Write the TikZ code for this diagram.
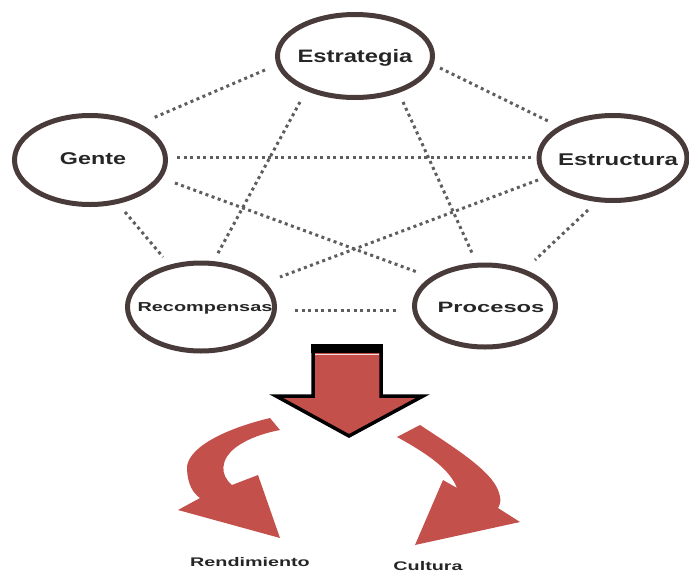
\documentclass[tikz,border=0pt]{standalone}
\usepackage{fontspec}
\setmainfont{Liberation Sans}
\usetikzlibrary{shapes.geometric,calc}
\definecolor{ringc}{HTML}{4A3B3B}
\definecolor{dotc}{HTML}{5E5E5E}
\definecolor{arrred}{HTML}{C4504C}
\newcommand{\stx}[3]{\scalebox{#1}[1]{\fontsize{#2}{#2}\selectfont\bfseries #3}}
\begin{document}
\begin{tikzpicture}[x=1pt,y=-1pt,
  ring/.style={ellipse, draw=ringc, line width=5pt, inner sep=0pt, fill=white},
  lbl/.style={inner sep=0pt, text=black!85},
  dots/.style={draw=dotc, line width=3pt, dash pattern=on 3pt off 3.5pt}]
\useasboundingbox (0,0) rectangle (689,574);
% ellipses
\node[ring, minimum width=155pt, minimum height=83pt] (E) at (355,56) {};
\node[ring, minimum width=151pt, minimum height=89pt] (G) at (90,160) {};
\node[ring, minimum width=148pt, minimum height=85pt] (S) at (613,158) {};
\node[ring, minimum width=147pt, minimum height=88pt] (R) at (201,307) {};
\node[ring, minimum width=141pt, minimum height=82pt] (P) at (485,306) {};
% labels
\node[lbl] (tE) at (355,58) {\stx{1.32}{18}{Estrategia}};
\node[lbl] (tG) at (93,159) {\stx{1.37}{17}{Gente}};
\node[lbl] (tS) at (618,160) {\stx{1.41}{17}{Estructura}};
\node[lbl] (tR) at (205,308) {\stx{1.53}{13}{Recompensas}};
\node[lbl] (tP) at (491,307) {\stx{1.58}{15}{Procesos}};
% dotted connectors
\draw[dots] ($(E)+(-90,14)$) -- ($(G)+(63,-42)$);
\draw[dots] ($(E)+(85,12)$) -- ($(S)+(-63,-36)$);
\draw[dots] ($(E)+(-55,46)$) -- ($(R)+(16,-52)$);
\draw[dots] ($(E)+(48,46)$) -- ($(P)+(-12,-51)$);
\draw[dots] ($(G)+(87,-3)$) -- ($(S)+(-81,-1)$);
\draw[dots] ($(G)+(85,23)$) -- ($(P)+(-68,-34)$);
\draw[dots] ($(G)+(35,52)$) -- ($(R)+(-38,-50)$);
\draw[dots] ($(S)+(-75,22)$) -- ($(R)+(79,-30)$);
\draw[dots] ($(S)+(-25,52)$) -- ($(P)+(50,-46)$);
\draw[dots] ($(R)+(94,3)$) -- ($(P)+(-87,4)$);
% big down arrow
\filldraw[fill=arrred, draw=black, line width=3.5pt, line join=miter]
  (313,346) -- (381,346) -- (381,396) -- (423,396) -- (349,436) -- (276,396) -- (313,396) -- cycle;
\fill[black] (311.25,344) rectangle (382.75,353);
\draw[white!80!arrred, line width=1.2pt] (315,354.5) -- (379,354.5);
% curved arrows
\fill[arrred] (270,418) .. controls (220,430) and (185,450) .. (187,470)
  .. controls (188,485) and (193,493) .. (200,498) -- (178,510) -- (280,538) -- (258,475) -- (232,485)
  .. controls (220,475) and (220,460) .. (235,448) .. controls (248,438) and (265,433) .. (280,430) -- cycle;
\fill[arrred] (420,425) .. controls (455,448) and (490,470) .. (498,490)
  .. controls (502,500) and (500,505) .. (498,508) -- (520,522) -- (415,545) -- (443,480) -- (457,488)
  .. controls (450,470) and (430,455) .. (397,437) -- cycle;
% bottom labels
\node[lbl] (tRe) at (250,562) {\stx{1.58}{12.5}{Rendimiento}};
\node[lbl] (tCu) at (428,566) {\stx{1.58}{12.5}{Cultura}};
\end{tikzpicture}
\end{document}
